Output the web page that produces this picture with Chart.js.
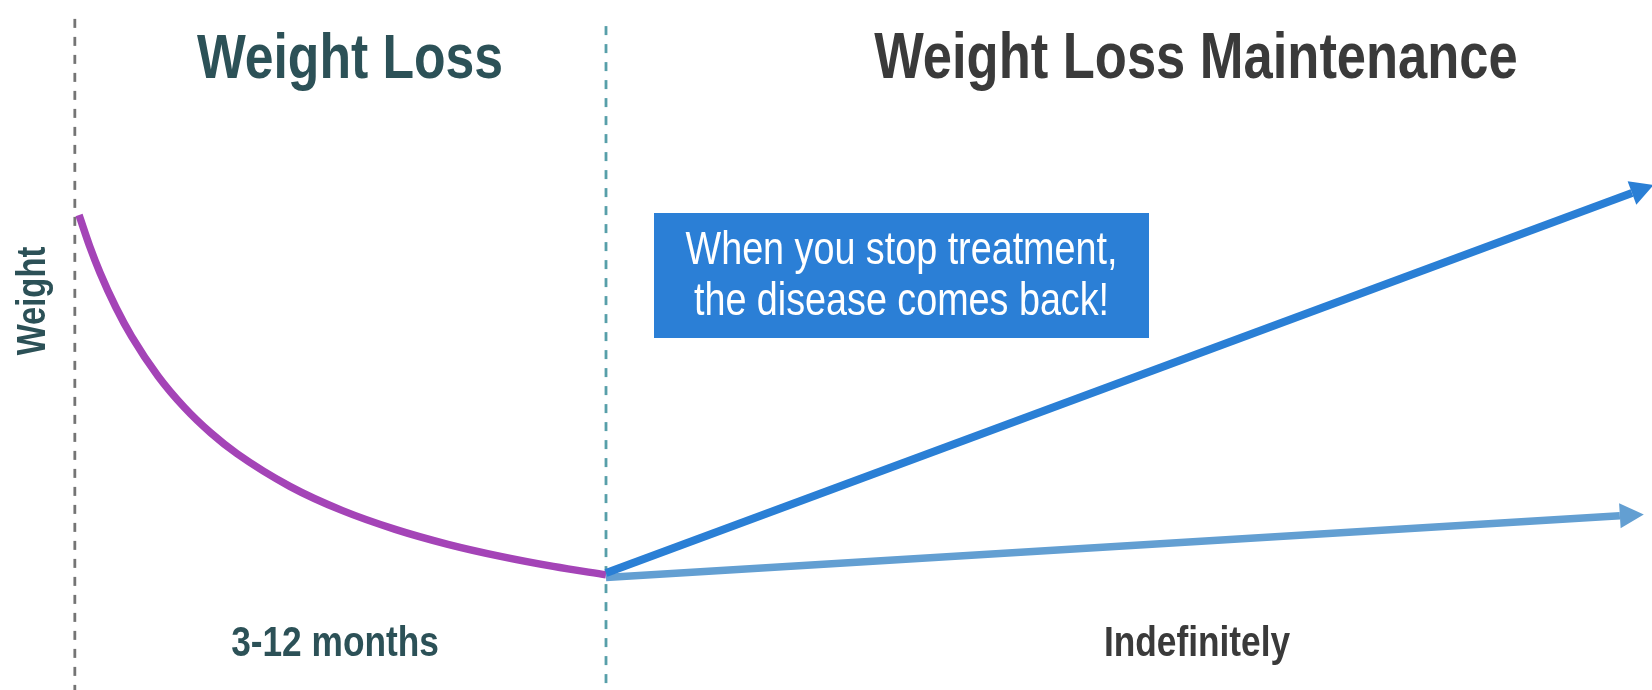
<!DOCTYPE html>
<html>
<head>
<meta charset="utf-8">
<script src="https://cdn.jsdelivr.net/npm/chart.js@4.4.1/dist/chart.umd.min.js"></script>
<style>
  html, body { margin: 0; padding: 0; background: #ffffff; overflow: hidden; }
  #wrap { width: 1652px; height: 690px; position: relative; }
</style>
</head>
<body>
<div id="wrap"><canvas id="c" width="1652" height="690"></canvas></div>
<script>
// ---- Data (time in arbitrary units, weight as a relative index) ----
const weightLossTime   = [0, 0.2, 0.4, 0.7, 1, 1.5, 2, 2.5, 3, 4, 5, 6, 7, 8, 9, 10];
const weightLossWeight = [100, 98.28, 96.78, 94.86, 93.24, 91.04, 89.3, 87.89, 86.73, 84.92, 83.57, 82.53, 81.7, 81.03, 80.47, 80];

const reboundTime   = [10, 29.47];          // "When you stop treatment"
const reboundWeight = [80.1, 101.22];

const maintainTime   = [10, 29.24];         // continued treatment
const maintainWeight = [79.85, 83.28];

const phaseBoundaryTime = [-0.08, 10];
const phaseBoundaryTop  = [110.9, 110.5];

const phaseTitles  = ["Weight Loss", "Weight Loss Maintenance"];
const phaseLengths = ["3-12 months", "Indefinitely"];
const yAxisLabel   = "Weight";
const calloutLines = ["When you stop treatment,", "the disease comes back!"];

const X_MIN = -1.5, X_MAX = 29.85;
const Y_MIN = 73.6, Y_MAX = 111.95;

// ---- font helpers ----
const probe = document.createElement('canvas').getContext('2d');
probe.font = '40px "Liberation Sans Narrow", monospace';
const wA = probe.measureText('Weight Loss Maintenance').width;
probe.font = '40px monospace';
const wB = probe.measureText('Weight Loss Maintenance').width;
const HAS_NARROW = Math.abs(wA - wB) > 0.5;

function drawText(ctx, text, x, y, size, bold, color, align, rotate) {
  ctx.save();
  ctx.translate(x, y);
  if (rotate) ctx.rotate(rotate);
  if (HAS_NARROW) {
    ctx.font = (bold ? 'bold ' : '') + size + 'px "Liberation Sans Narrow", "Liberation Sans", sans-serif';
  } else {
    ctx.font = (bold ? 'bold ' : '') + size + 'px "Liberation Sans", Arial, sans-serif';
    ctx.scale(0.82, 1);
  }
  ctx.fillStyle = color;
  ctx.textAlign = align || 'center';
  ctx.textBaseline = 'alphabetic';
  ctx.fillText(text, 0, 0);
  ctx.restore();
}

const TEAL_DARK = '#2C5157';
const GRAY_DARK = '#3A3A3A';
const BOX_BLUE  = '#2B7FD6';

const arrowPlugin = {
  id: 'arrows',
  afterDatasetsDraw(chart) {
    const ctx = chart.ctx;
    chart.data.datasets.forEach((ds, i) => {
      if (!ds.arrowHead) return;
      const meta = chart.getDatasetMeta(i);
      const pts = meta.data;
      const a = pts[pts.length - 2], b = pts[pts.length - 1];
      const dx = b.x - a.x, dy = b.y - a.y;
      const len = Math.hypot(dx, dy);
      const ux = dx / len, uy = dy / len;
      const px = -uy, py = ux;
      const L = ds.arrowHead.length, W = ds.arrowHead.halfWidth;
      ctx.save();
      ctx.fillStyle = ds.borderColor;
      ctx.beginPath();
      ctx.moveTo(b.x + ux * L, b.y + uy * L);
      ctx.lineTo(b.x + px * W, b.y + py * W);
      ctx.lineTo(b.x - px * W, b.y - py * W);
      ctx.closePath();
      ctx.fill();
      ctx.restore();
    });
  }
};

const textPlugin = {
  id: 'texts',
  afterDraw(chart) {
    const ctx = chart.ctx;
    drawText(ctx, phaseTitles[0], 350, 78, 63, true, TEAL_DARK, 'center');
    drawText(ctx, phaseTitles[1], 1196, 78, 64, true, GRAY_DARK, 'center');
    drawText(ctx, phaseLengths[0], 335, 656, 43, true, TEAL_DARK, 'center');
    drawText(ctx, phaseLengths[1], 1197, 656, 43, true, GRAY_DARK, 'center');
    drawText(ctx, yAxisLabel, 45, 301, 40, true, TEAL_DARK, 'center', -Math.PI / 2);
    ctx.save();
    ctx.fillStyle = BOX_BLUE;
    ctx.fillRect(654, 213, 495, 125);
    ctx.restore();
    drawText(ctx, calloutLines[0], 901.5, 264, 46, false, '#FFFFFF', 'center');
    drawText(ctx, calloutLines[1], 901.5, 315, 46, false, '#FFFFFF', 'center');
  }
};

const toXY = (xs, ys) => xs.map((x, i) => ({ x, y: ys[i] }));

new Chart(document.getElementById('c'), {
  type: 'line',
  data: {
    datasets: [
      {
        label: 'rebound',
        data: toXY(reboundTime, reboundWeight),
        borderColor: '#2A7FD5',
        borderWidth: 8,
        pointRadius: 0,
        borderCapStyle: 'butt',
        arrowHead: { length: 23, halfWidth: 12.5 },
        order: 1
      },
      {
        label: 'maintain',
        data: toXY(maintainTime, maintainWeight),
        borderColor: '#639FD2',
        borderWidth: 7.5,
        pointRadius: 0,
        borderCapStyle: 'butt',
        arrowHead: { length: 24, halfWidth: 12.5 },
        order: 2
      },
      {
        label: 'weight loss',
        data: toXY(weightLossTime, weightLossWeight),
        borderColor: '#A444B7',
        borderWidth: 7.5,
        pointRadius: 0,
        cubicInterpolationMode: 'monotone',
        borderCapStyle: 'butt',
        order: 3
      },
      {
        label: 'start boundary',
        data: [{ x: phaseBoundaryTime[0], y: phaseBoundaryTop[0] }, { x: phaseBoundaryTime[0], y: Y_MIN }],
        borderColor: '#747474',
        borderWidth: 2.8,
        borderDash: [9, 9],
        pointRadius: 0,
        order: 10
      },
      {
        label: 'phase boundary',
        data: [{ x: phaseBoundaryTime[1], y: phaseBoundaryTop[1] }, { x: phaseBoundaryTime[1], y: Y_MIN }],
        borderColor: '#579FA9',
        borderWidth: 2.8,
        borderDash: [9, 9],
        pointRadius: 0,
        order: 11
      }
    ]
  },
  options: {
    responsive: false,
    animation: false,
    layout: { padding: 0 },
    plugins: { legend: { display: false }, tooltip: { enabled: false } },
    scales: {
      x: { type: 'linear', min: X_MIN, max: X_MAX, display: false },
      y: { type: 'linear', min: Y_MIN, max: Y_MAX, display: false }
    }
  },
  plugins: [arrowPlugin, textPlugin]
});
</script>
</body>
</html>
